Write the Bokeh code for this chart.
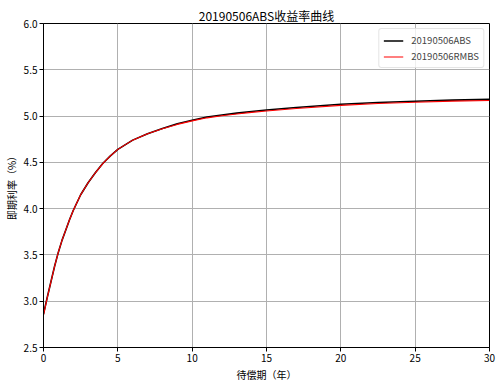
from bokeh.plotting import figure
from bokeh.models import Range1d, FixedTicker, Legend, LegendItem, NumeralTickFormatter
from bokeh.embed import file_html
from bokeh.resources import INLINE

maturity = [0, 0.25, 0.5, 0.75, 1, 1.25, 1.5, 1.75, 2, 2.5, 3, 3.5, 4, 4.5, 5,
            6, 7, 8, 9, 10, 11, 12, 13, 14, 15, 17, 20, 22.5, 25, 27.5, 30]
abs_rate = [2.86, 3.04, 3.21, 3.38, 3.53, 3.66, 3.77, 3.88, 3.98, 4.15, 4.28,
            4.39, 4.49, 4.57, 4.64, 4.74, 4.81, 4.866, 4.916, 4.955, 4.99,
            5.012, 5.032, 5.05, 5.065, 5.092, 5.127, 5.146, 5.16, 5.172, 5.18]
rmbs_rate = [2.85, 3.035, 3.21, 3.38, 3.53, 3.66, 3.77, 3.88, 3.98, 4.15, 4.28,
             4.39, 4.49, 4.57, 4.64, 4.74, 4.808, 4.862, 4.91, 4.948, 4.981,
             5.003, 5.022, 5.04, 5.055, 5.081, 5.116, 5.135, 5.15, 5.161, 5.168]
x_ticks = [0, 5, 10, 15, 20, 25, 30]
y_ticks = [2.5, 3.0, 3.5, 4.0, 4.5, 5.0, 5.5, 6.0]

FONT = "Noto Sans CJK SC"

p = figure(width=501, height=384, output_backend="svg", toolbar_location=None,
           x_range=Range1d(0, 30), y_range=Range1d(2.5, 6.0),
           title="20190506ABS收益率曲线")
p.min_border_left = 43
p.min_border_right = 12
p.min_border_top = 23
p.min_border_bottom = 36
p.background_fill_color = "white"
p.border_fill_color = "white"
p.outline_line_color = "black"
p.outline_line_width = 1

p.title.align = "center"
p.title.text_font = FONT
p.title.text_font_size = "12px"
p.title.text_font_style = "normal"
p.title.text_color = "black"
p.title.standoff = 0
p.title.offset = 0
p.title.text_line_height = 1.0

for ax in (p.xaxis[0], p.yaxis[0]):
    ax.axis_label_text_font = FONT
    ax.axis_label_text_font_size = "10px"
    ax.axis_label_text_font_style = "normal"
    ax.axis_label_text_color = "black"
    ax.major_label_text_font = FONT
    ax.major_label_text_font_size = "10px"
    ax.major_label_text_color = "black"
    ax.minor_tick_line_color = None
    ax.major_tick_in = 0
    ax.major_tick_out = 4
    ax.axis_line_color = "black"
    ax.major_tick_line_color = "black"
    ax.axis_label_standoff = 2
    ax.major_label_standoff = 2

p.xaxis.axis_label = "待偿期（年）"
p.yaxis.axis_label = "即期利率（%）"
p.xaxis.ticker = FixedTicker(ticks=x_ticks)
p.yaxis.ticker = FixedTicker(ticks=y_ticks)
p.yaxis.formatter = NumeralTickFormatter(format="0.0")
p.xaxis.formatter = NumeralTickFormatter(format="0")

p.grid.grid_line_color = "#b0b0b0"
p.grid.grid_line_width = 1
p.xgrid.ticker = FixedTicker(ticks=x_ticks)
p.ygrid.ticker = FixedTicker(ticks=y_ticks)

r1 = p.line(maturity, abs_rate, line_color="black", line_width=1.6)
r2 = p.line(maturity, rmbs_rate, line_color="red", line_width=1.1)

legend = Legend(items=[LegendItem(label="20190506ABS", renderers=[r1]),
                       LegendItem(label="20190506RMBS", renderers=[r2])],
                location="top_right")
legend.label_text_font = FONT
legend.label_text_font_size = "9.5px"
legend.label_height = 13
legend.glyph_height = 13
legend.glyph_width = 20
legend.spacing = 2
legend.padding = 4
legend.margin = 5
legend.border_line_color = "#cccccc"
legend.border_radius = 3
legend.background_fill_alpha = 0.8
legend.label_standoff = 8
p.add_layout(legend)

open("out.html", "w").write(file_html(p, INLINE))
